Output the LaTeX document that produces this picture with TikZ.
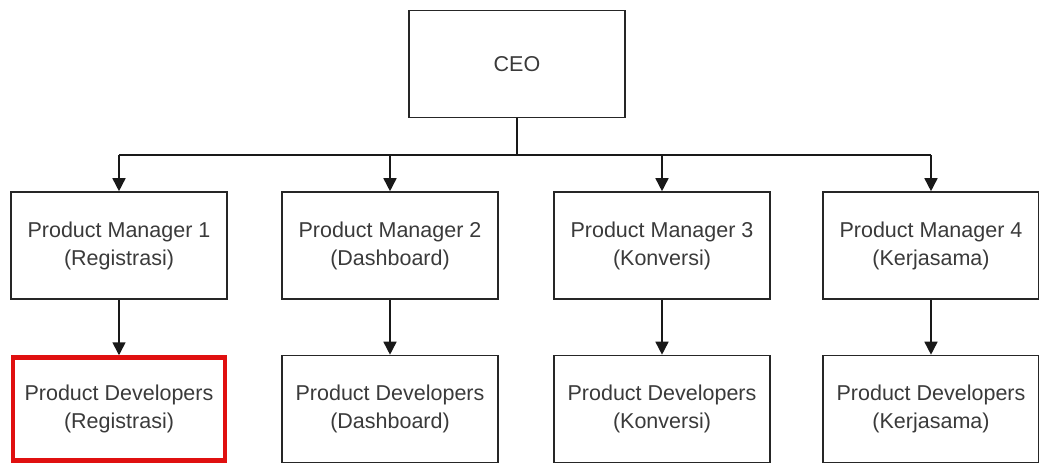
\documentclass[tikz,border=0pt]{standalone}
\usepackage{fontspec}
\setmainfont{Liberation Sans}
\usetikzlibrary{arrows.meta}
\definecolor{txt}{HTML}{3A3A3A}
\definecolor{hl}{HTML}{E01010}
\begin{document}
\begin{tikzpicture}[x=1pt,y=-1pt,
  box/.style={draw=black!85,line width=1.6pt,minimum width=216pt,minimum height=107pt,
    align=center,font=\fontsize{21.5}{28}\selectfont,text=txt,inner sep=0pt},
  redbox/.style={box,draw=hl,line width=4.5pt,minimum width=212pt,minimum height=103pt},
  conn/.style={line width=1.6pt,draw=black!90},
  arr/.style={conn,-{Triangle[length=13pt,width=13pt]}}]
\useasboundingbox (0,0) rectangle (1039,466);
\node[box] (ceo) at (517,64) {CEO};
\node[box] (pm1) at (119,245.5) {Product Manager 1\\(Registrasi)};
\node[box] (pm2) at (390,245.5) {Product Manager 2\\(Dashboard)};
\node[box] (pm3) at (662,245.5) {Product Manager 3\\(Konversi)};
\node[box] (pm4) at (931,245.5) {Product Manager 4\\(Kerjasama)};
\node[redbox] (pd1) at (119,409) {Product Developers\\(Registrasi)};
\node[box] (pd2) at (390,409) {Product Developers\\(Dashboard)};
\node[box] (pd3) at (662,409) {Product Developers\\(Konversi)};
\node[box] (pd4) at (931,409) {Product Developers\\(Kerjasama)};
\coordinate (j) at (517,155);
\coordinate (jl) at (119,155);
\coordinate (jr) at (931,155);
\draw[conn] (ceo.south) -- (j);
\draw[conn] (jl) -- (jr);
\foreach \p in {pm1,pm2,pm3,pm4}{
  \draw[arr] (\p.north |- j) -- (\p.north);
}
\draw[arr] (pm1) -- (pd1);
\draw[arr] (pm2) -- (pd2);
\draw[arr] (pm3) -- (pd3);
\draw[arr] (pm4) -- (pd4);
\end{tikzpicture}
\end{document}
